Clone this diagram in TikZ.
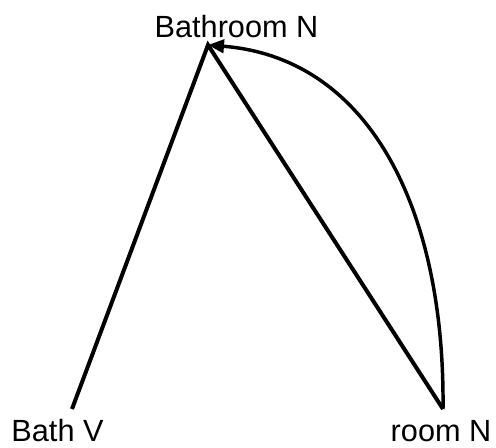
\documentclass[tikz,border=0pt]{standalone}
\usepackage{fontspec}
\setmainfont{Liberation Sans}
\usetikzlibrary{arrows.meta}
\begin{document}
\begin{tikzpicture}[x=0.75pt,y=-0.75pt,
    lbl/.style={anchor=base, inner sep=0pt, font=\fontsize{23}{26}\selectfont},
    link/.style={line width=3pt},
    backarc/.style={line width=2.6pt, -{Triangle[length=12pt,width=10pt]}}]
    \useasboundingbox (0,0) rectangle (496,447);

    % labels
    \node[lbl] (bathroomN) at (236.5,37) {Bathroom N};
    \node[lbl] (bathV) at (57.5,441) {Bath V};
    \node[lbl] (roomN) at (441,441) {room N};

    % end points
    \coordinate (top) at (208,45);
    \coordinate (left) at (72,409);
    \coordinate (right) at (443,409);

    \draw[link] (left) -- (top) -- (right);

    % curved arrow back to the top
    \draw[backarc] (right) .. controls (445,210) and (370,58) .. (top);
\end{tikzpicture}
\end{document}
